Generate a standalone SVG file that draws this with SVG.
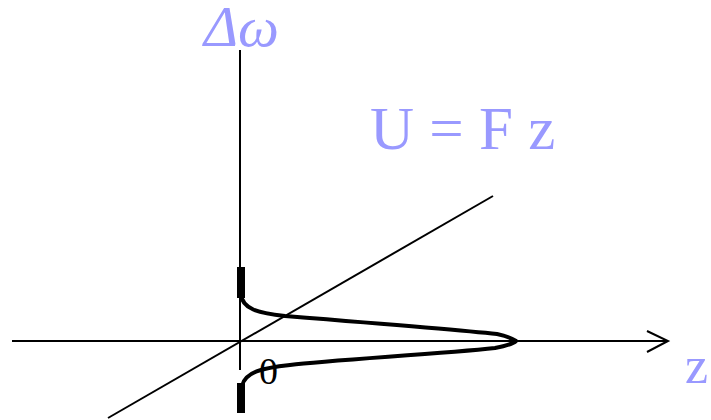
<svg xmlns="http://www.w3.org/2000/svg" width="711" height="420" viewBox="0 0 711 420">
<style>
.ax{stroke:#000;stroke-width:2;fill:none}
.cv{stroke:#000;stroke-width:4;fill:none;stroke-linejoin:round}
.th{stroke:#000;stroke-width:8;fill:none}
.lbl{fill:#9999ff;font-family:"Liberation Serif",serif}
</style>
<g id="connectors">
<line class="ax" x1="12" y1="341" x2="667" y2="341"/>
<polyline class="ax" points="647,331 668,341 647,352"/>
<line class="ax" x1="240" y1="50" x2="240" y2="370"/>
<line class="ax" stroke-width="1.6" x1="108" y1="418" x2="493" y2="196"/>
</g>
<g id="curve">
<line class="th" x1="241" y1="267" x2="241" y2="298"/>
<path class="cv" d="M241,294 C242,309 258,313 285,316 C360,322 460,330 497,334 C507,336 513,339 516,341 C513,344 505,346 495,348 C440,354 330,360 290,365 C262,368 245,372 242,386"/>
<line class="th" x1="241" y1="383" x2="241" y2="413"/>
</g>
<g id="labels">
<text class="lbl" x="204" y="46" font-size="58" font-style="italic">Δω</text>
<text class="lbl" x="370" y="149" font-size="61">U = F z</text>
<text class="lbl" x="685" y="383" font-size="52">z</text>
<text x="259" y="384" font-size="38" font-family="'Liberation Serif',serif" fill="#000">0</text>
</g>
</svg>
